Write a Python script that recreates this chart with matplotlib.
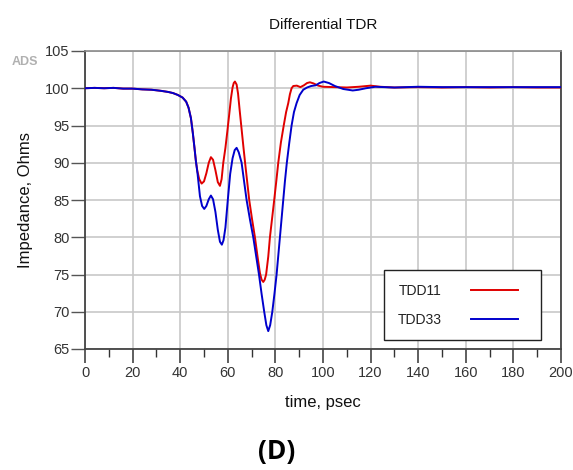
import matplotlib
matplotlib.use("Agg")
import matplotlib.pyplot as plt
from matplotlib.ticker import MultipleLocator

plt.rcParams['font.family'] = ['Liberation Sans', 'DejaVu Sans']

# ---- data ----
time_tdd11 = [0, 4, 8, 12, 16, 20, 24, 28, 32, 35, 37, 39, 41, 42.5, 43.5, 44.5, 45.3, 46.0,
              46.6, 47.2, 48.0, 49.0, 50.0, 51.0, 52.0, 52.9, 53.8, 54.8, 55.8, 56.7, 57.4,
              58.1, 59.0, 59.8, 60.6, 61.3, 62.0, 62.5, 63.0, 63.7, 64.3, 65.0, 65.8, 66.6,
              67.4, 68.2, 69.0, 70.2, 71.4, 72.5, 73.5, 74.2, 74.9, 75.5, 76.1, 77.0, 77.7,
              78.6, 79.5, 80.4, 81.2, 82.3, 83.5, 84.5, 85.4, 86.1, 86.8, 87.5, 89.0, 90.5,
              92.0, 93.3, 94.5, 96.0, 98.0, 100, 105, 110, 115, 120, 124, 130, 140, 150, 160,
              170, 180, 190, 200]
imp_tdd11 = [100.0, 100.05, 100.0, 100.05, 99.95, 99.95, 99.85, 99.8, 99.65, 99.5, 99.35, 99.1,
             98.75, 98.2, 97.4, 96.0, 94.0, 92.0, 90.2, 88.9, 87.8, 87.2, 87.5, 88.6, 90.0,
             90.75, 90.4, 89.0, 87.4, 86.9, 87.8, 90.0, 92.0, 94.2, 96.5, 98.6, 100.1, 100.7,
             100.9, 100.5, 99.3, 97.0, 94.5, 92.0, 89.6, 87.3, 85.0, 82.4, 80.0, 77.4, 75.2,
             74.3, 74.0, 74.3, 75.0, 77.4, 80.0, 82.5, 85.0, 87.6, 90.0, 92.7, 95.0, 96.8,
             98.0, 99.2, 100.0, 100.3, 100.35, 100.15, 100.4, 100.7, 100.8, 100.65, 100.35,
             100.2, 100.15, 100.1, 100.2, 100.35, 100.2, 100.1, 100.15, 100.1, 100.15, 100.1,
             100.15, 100.1, 100.1]

time_tdd33 = [0, 4, 8, 12, 16, 20, 24, 28, 32, 35, 37, 39, 41, 42.5, 43.5, 44.5, 45.3, 46.0,
              46.6, 47.3, 48.3, 49.2, 50.1, 51.0, 52.0, 52.9, 53.8, 54.8, 55.8, 56.7, 57.5,
              58.2, 59.0, 60.0, 61.0, 62.0, 62.9, 63.7, 64.6, 65.8, 66.8, 67.9, 69.3, 70.7,
              71.9, 73.1, 74.2, 75.3, 76.2, 77.0, 77.8, 78.7, 79.6, 80.5, 81.2, 81.9, 82.6,
              83.3, 84.0, 84.8, 85.8, 86.8, 87.8, 88.9, 90.2, 91.7, 93.3, 95.0, 97.0, 98.5,
              100.3, 102.5, 105, 108.5, 112.5, 115, 118, 122, 126, 130, 140, 150, 160, 170,
              180, 190, 200]
imp_tdd33 = [100.0, 100.05, 100.0, 100.05, 99.95, 99.95, 99.85, 99.8, 99.65, 99.5, 99.35, 99.1,
             98.75, 98.2, 97.4, 96.0, 94.0, 92.0, 90.2, 88.5, 85.5, 84.2, 83.8, 84.2, 85.1,
             85.6, 85.1, 83.4, 81.0, 79.4, 79.0, 79.6, 81.3, 85.0, 88.5, 90.6, 91.7, 92.0,
             91.4, 90.0, 87.6, 85.0, 82.4, 80.0, 77.5, 75.0, 72.4, 70.0, 68.2, 67.4, 68.2,
             70.0, 72.4, 75.0, 77.5, 80.0, 82.5, 85.0, 87.5, 90.0, 92.6, 95.0, 96.8, 98.0,
             99.1, 99.8, 100.1, 100.3, 100.4, 100.7, 100.9, 100.7, 100.3, 99.9, 99.7, 99.8,
             100.0, 100.2, 100.15, 100.1, 100.2, 100.15, 100.15, 100.15, 100.15, 100.15, 100.15]

series_names = ["TDD11", "TDD33"]
series_colors = ["#e00000", "#0000cc"]

x_ticks = list(range(0, 201, 20))
y_ticks = list(range(65, 106, 5))

# ---- figure ----
fig = plt.figure(figsize=(5.73, 4.70), dpi=100)
ax = fig.add_axes([85 / 573, 1 - 349 / 470, 476 / 573, 298 / 470])

ax.plot(time_tdd11, imp_tdd11, color=series_colors[0], lw=1.4, label=series_names[0], zorder=3)
ax.plot(time_tdd33, imp_tdd33, color=series_colors[1], lw=1.4, label=series_names[1], zorder=4)

ax.set_xlim(0, 200)
ax.set_ylim(65, 105)
ax.set_xticks(x_ticks)
ax.set_yticks(y_ticks)
ax.xaxis.set_minor_locator(MultipleLocator(10))

ax.grid(True, which='major', color='#c8c8c8', lw=1.2, zorder=0)
ax.set_axisbelow(True)

for side in ['left', 'right', 'bottom']:
    ax.spines[side].set_color('#444444')
    ax.spines[side].set_linewidth(1.3)
ax.spines['top'].set_color('#8a8a8a')
ax.spines['top'].set_linewidth(1.2)

ax.tick_params(axis='x', which='major', length=10, width=1.1, color='#333333',
               labelsize=10.5, labelcolor='#333333', pad=2)
ax.tick_params(axis='x', which='minor', length=6, width=1.0, color='#333333')
ax.tick_params(axis='y', which='major', length=10, width=1.0, color='#555555',
               labelsize=10.5, labelcolor='#333333', pad=1)

ax.set_title("Differential TDR", fontsize=11, pad=16, color='#111111')
ax.set_xlabel("time, psec", fontsize=12, labelpad=11, color='#111111')
ax.set_ylabel("Impedance, Ohms", fontsize=12, labelpad=9, color='#111111')

fig.text(25 / 573, 1 - 62 / 470, "ADS", fontsize=9, color='#b0b0b0', ha='center',
         va='center', fontweight='bold')
fig.text(277 / 573, 1 - 451 / 470, "(D)", fontsize=19, fontweight='bold',
         family=['Open Sans', 'DejaVu Sans'], ha='center', va='center')

leg = ax.legend(loc='lower left', bbox_to_anchor=(0.629, 0.030, 0.328, 0.229),
                mode='expand', borderaxespad=0, markerfirst=False, frameon=True,
                fancybox=False, edgecolor='#222222', framealpha=1, fontsize=10,
                handlelength=3.4, handletextpad=2.1, borderpad=0.95, labelspacing=1.1)
leg.get_frame().set_linewidth(1.0)
for t in leg.get_texts():
    t.set_color('#222222')

fig.savefig("out.png", dpi=100)
